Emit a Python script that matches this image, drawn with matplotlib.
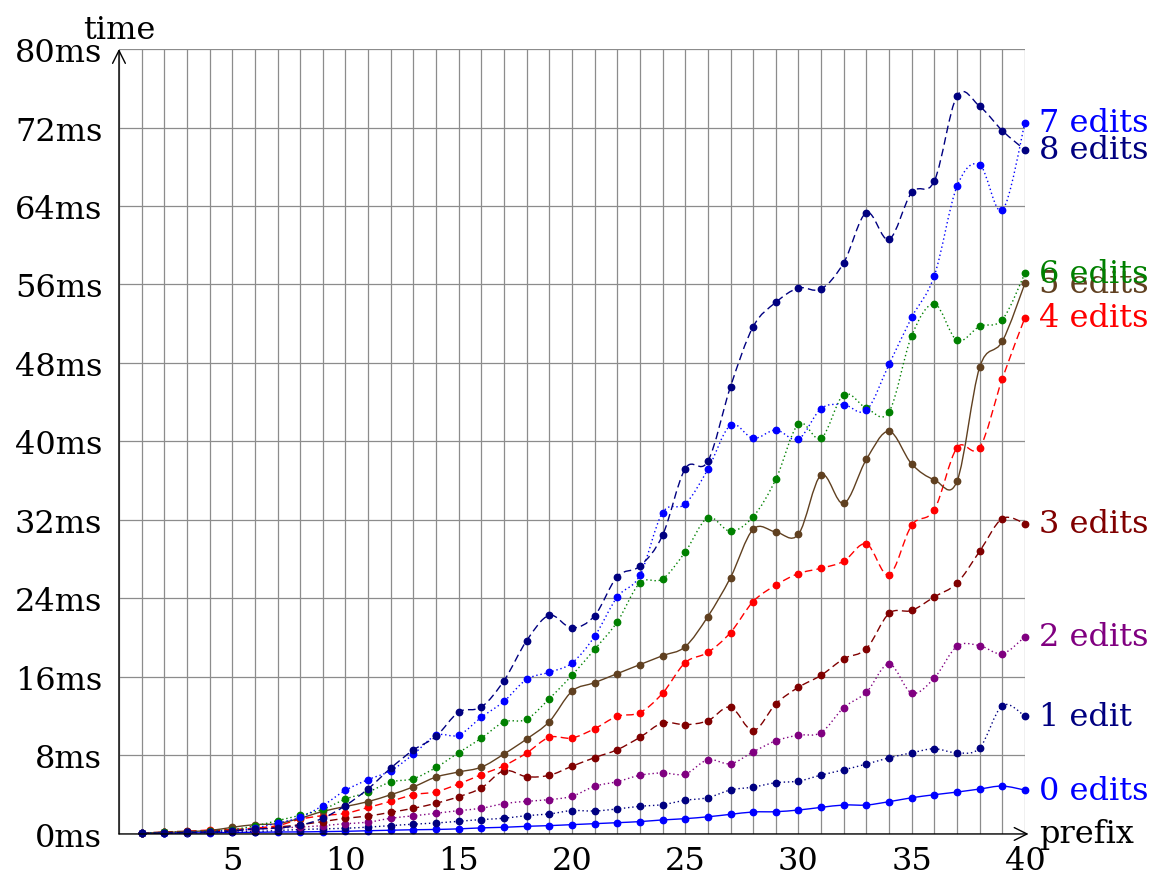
import numpy as np
import matplotlib
matplotlib.use("Agg")
import matplotlib.pyplot as plt
from matplotlib.path import Path
from matplotlib.patches import PathPatch

plt.rcParams['font.family'] = ['DejaVu Serif']
plt.rcParams['font.size'] = 23

prefix = list(range(1, 41))

# query time in ms, one list per number of allowed edits
edits0 = [0.05, 0.08, 0.1, 0.12, 0.15, 0.17, 0.2, 0.21, 0.24, 0.27, 0.33, 0.38,
          0.43, 0.46, 0.52, 0.62, 0.68, 0.78, 0.85, 0.95, 1.05, 1.15, 1.26, 1.43,
          1.56, 1.75, 2.0, 2.24, 2.27, 2.44, 2.71, 2.95, 2.95, 3.29, 3.69, 4.0,
          4.27, 4.58, 4.88, 4.47]
edits1 = [0.05, 0.08, 0.12, 0.15, 0.2, 0.25, 0.35, 0.45, 0.52, 0.58, 0.7, 0.85,
          1.0, 1.12, 1.29, 1.47, 1.6, 1.87, 2.04, 2.38, 2.34, 2.55, 2.82, 2.99,
          3.43, 3.7, 4.48, 4.78, 5.22, 5.39, 6.0, 6.54, 7.12, 7.76, 8.27, 8.68,
          8.27, 8.78, 13.08, 12.0]
edits2 = [0.1, 0.15, 0.2, 0.25, 0.3, 0.45, 0.6, 0.7, 0.85, 1.05, 1.2, 1.6,
          1.85, 2.11, 2.38, 2.62, 3.09, 3.33, 3.5, 3.84, 4.86, 5.33, 5.98, 6.22,
          6.11, 7.56, 7.16, 8.37, 9.49, 10.07, 10.34, 12.88, 14.44, 17.32, 14.37,
          15.9, 19.12, 19.19, 18.37, 20.1]
edits3 = [0.1, 0.2, 0.28, 0.3, 0.4, 0.55, 0.7, 0.95, 1.26, 1.6, 1.83, 2.21,
          2.62, 3.13, 3.8, 4.69, 6.45, 5.84, 5.98, 6.9, 7.78, 8.59, 9.85, 11.31,
          11.14, 11.54, 12.93, 10.54, 13.25, 14.95, 16.17, 17.86, 18.88, 22.47,
          22.78, 24.17, 25.56, 28.81, 32.14, 31.63]
edits4 = [0.1, 0.15, 0.25, 0.41, 0.45, 0.6, 0.85, 1.5, 1.87, 2.1, 2.7, 3.33,
          4.0, 4.3, 5.1, 6.05, 6.96, 8.25, 9.85, 9.78, 10.73, 11.99, 12.37, 14.34,
          17.46, 18.5, 20.53, 23.69, 25.36, 26.54, 27.08, 27.8, 29.56, 26.41,
          31.46, 33.05, 39.37, 39.37, 46.4, 52.62]
edits5 = [0.1, 0.15, 0.25, 0.35, 0.68, 0.95, 1.05, 1.6, 2.3, 2.8, 3.3, 4.0,
          4.8, 5.8, 6.32, 6.81, 8.15, 9.68, 11.45, 14.54, 15.42, 16.34, 17.26,
          18.17, 19.09, 22.16, 26.13, 31.05, 30.78, 30.54, 36.58, 33.69, 38.18,
          41.04, 37.7, 36.1, 35.95, 47.56, 50.21, 56.12]
edits6 = [0.1, 0.15, 0.2, 0.3, 0.45, 0.82, 1.36, 1.9, 2.5, 3.55, 4.28, 5.3,
          5.64, 6.78, 8.29, 9.76, 11.41, 11.69, 13.79, 16.17, 18.82, 21.61, 25.58,
          25.99, 28.74, 32.22, 30.85, 32.34, 36.14, 41.78, 40.32, 44.77, 43.4,
          43.02, 50.78, 54.01, 50.31, 51.74, 52.42, 57.14]
edits7 = [0.05, 0.1, 0.15, 0.25, 0.35, 0.6, 1.12, 1.7, 2.9, 4.45, 5.54, 6.45,
          8.13, 10.05, 10.08, 11.89, 13.52, 15.76, 16.48, 17.43, 20.14, 24.15,
          26.36, 32.75, 33.63, 37.16, 41.66, 40.32, 41.17, 40.25, 43.35, 43.75,
          43.18, 47.86, 52.65, 56.9, 66.0, 68.21, 63.56, 72.49]
edits8 = [0.05, 0.1, 0.15, 0.2, 0.3, 0.5, 0.6, 0.9, 1.6, 2.9, 4.6, 6.71,
          8.56, 9.95, 12.42, 12.94, 15.63, 19.7, 22.28, 20.99, 22.25, 26.23, 27.31,
          30.44, 37.23, 37.99, 45.59, 51.7, 54.18, 55.64, 55.54, 58.22, 63.32,
          60.6, 65.39, 66.55, 75.21, 74.16, 71.68, 69.71]

labels = ['0 edits', '1 edit', '2 edits', '3 edits', '4 edits',
          '5 edits', '6 edits', '7 edits', '8 edits']
series = [edits0, edits1, edits2, edits3, edits4, edits5, edits6, edits7, edits8]
colors = ['#0000ff', '#000080', '#800080', '#800000', '#ff0000',
          '#604020', '#008000', '#0000ff', '#000080']
dotted = (0, (1, 2))
dashed = (0, (5.5, 3))
styles = ['-', dotted, dotted, dashed, dashed, '-', dotted, dotted, dashed]

yticks = list(range(0, 81, 8))
xticks = list(range(5, 41, 5))


def smooth_path(xs, ys, k=0.17):
    # bezier through the points, like pgfplots "smooth"
    pts = np.column_stack([xs, ys]).astype(float)
    n = len(pts)
    verts = [pts[0]]
    codes = [Path.MOVETO]
    for i in range(n - 1):
        p0 = pts[i - 1] if i > 0 else pts[i]
        p1 = pts[i]
        p2 = pts[i + 1]
        p3 = pts[i + 2] if i + 2 < n else pts[i + 1]
        verts += [p1 + (p2 - p0) * k, p2 - (p3 - p1) * k, p2]
        codes += [Path.CURVE4] * 3
    return Path(verts, codes)


fig = plt.figure(figsize=(11.55, 8.79), dpi=100)
ax = fig.add_axes([0.103, 0.0501, 0.7844, 0.893])

for ys, col, ls, lab in zip(series, colors, styles, labels):
    patch = PathPatch(smooth_path(prefix, ys), fill=False, edgecolor=col,
                      lw=1.0, linestyle=ls)
    ax.add_patch(patch)
    ax.plot(prefix, ys, linestyle='none', marker='o', markersize=4.6,
            color=col, clip_on=False)
    ax.annotate(lab, xy=(prefix[-1], ys[-1]), xytext=(10, 0),
                textcoords='offset points', ha='left', va='center',
                color=col, annotation_clip=False)

ax.set_xlim(0, 40)
ax.set_ylim(0, 80)
ax.set_xticks(xticks)
ax.set_xticks(range(0, 41), minor=True)
ax.set_yticks(yticks)
ax.set_yticklabels([f'{v}ms' for v in yticks])
ax.tick_params(which='both', length=0)
ax.tick_params(axis='x', pad=8)
ax.tick_params(axis='y', pad=12)
ax.grid(True, which='both', color='0.55', lw=0.9)
ax.set_axisbelow(True)
for s in ax.spines.values():
    s.set_visible(False)

arrow = dict(arrowstyle='->', lw=1.0, color='black', shrinkA=0, shrinkB=0)
ax.annotate('', xy=(1.004, 0), xytext=(0, 0), xycoords='axes fraction',
            arrowprops=arrow, annotation_clip=False)
ax.annotate('', xy=(0, 1.0), xytext=(0, 0), xycoords='axes fraction',
            arrowprops=arrow, annotation_clip=False)

ax.annotate('time', xy=(0, 1), xycoords='axes fraction', xytext=(0, 8),
            textcoords='offset points', ha='center', va='baseline')
ax.annotate('prefix', xy=(1, 0), xycoords='axes fraction', xytext=(10, 0),
            textcoords='offset points', ha='left', va='center')

fig.savefig('out.png', dpi=100)
